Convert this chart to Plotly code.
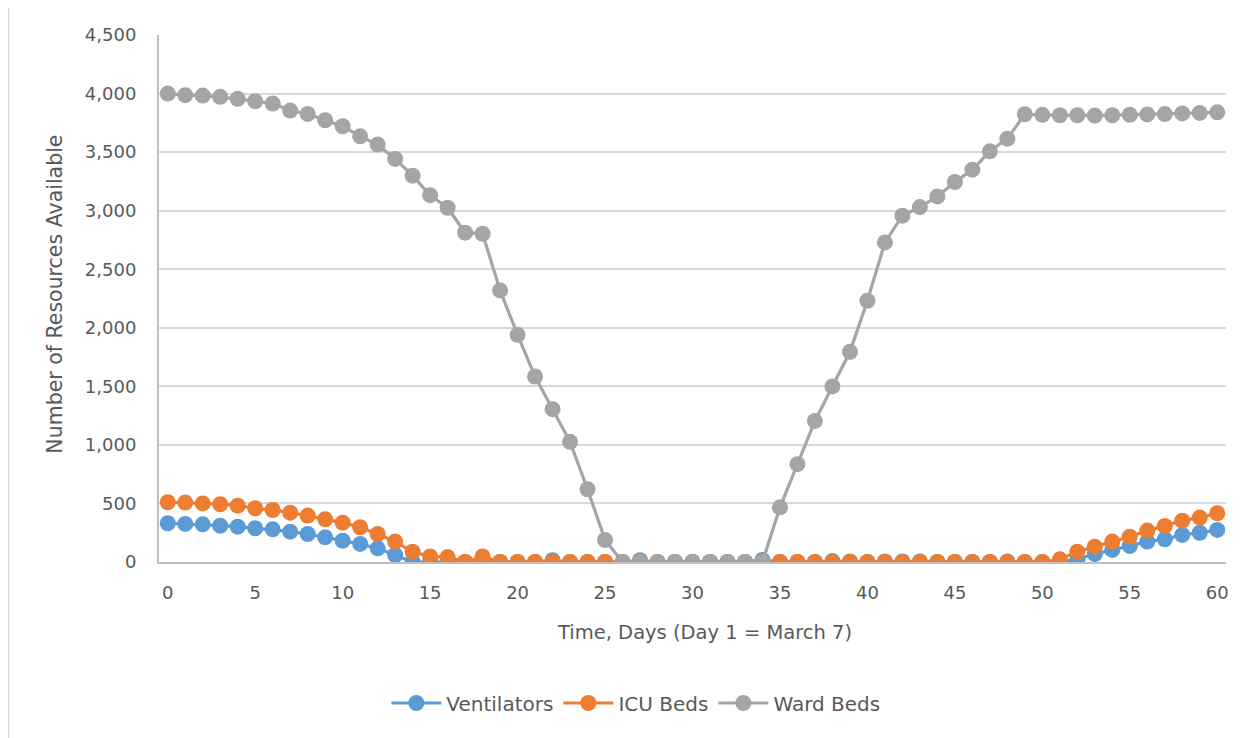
import plotly.graph_objects as go

days = list(range(61))

ventilators = [331, 325, 322, 310, 302, 288, 279, 259, 239, 211,
               182, 154, 117, 60, 0, 0, 0, 0, 15, 0,
               0, 0, 15, 0, 0, 0, 0, 15, 0, 0,
               0, 0, 0, 0, 18, 0, 0, 0, 8, 5,
               0, 5, 5, 5, 0, 0, 0, 0, 5, 0,
               0, 0, 23, 68, 103, 137, 174, 194, 231, 250,
               274]

icu_beds = [510, 507, 500, 493, 481, 459, 444, 421, 396, 365,
            336, 297, 239, 174, 88, 48, 42, 0, 48, 0,
            0, 0, 0, 0, 0, 0, 0, 0, 0, 0,
            0, 0, 0, 0, 0, 0, 0, 0, 0, 0,
            0, 0, 0, 0, 0, 0, 0, 0, 0, 0,
            0, 23, 88, 131, 174, 216, 268, 308, 353, 379,
            416]

ward_beds = [4000, 3986, 3983, 3972, 3955, 3934, 3915, 3855, 3826, 3772,
             3721, 3635, 3564, 3442, 3299, 3132, 3025, 2812, 2803, 2319,
             1940, 1584, 1305, 1026, 621, 188, 0, 0, 0, 0,
             0, 0, 0, 0, 0, 467, 835, 1205, 1499, 1795,
             2231, 2729, 2957, 3031, 3122, 3245, 3350, 3507, 3615, 3823,
             3818, 3815, 3815, 3812, 3815, 3818, 3822, 3825, 3830, 3835,
             3840]

series_names = ["Ventilators", "ICU Beds", "Ward Beds"]
series_colors = ["#5B9BD5", "#ED7D31", "#A5A5A5"]
y_ticks = list(range(0, 4501, 500))
x_ticks = list(range(0, 61, 5))

FONT = "DejaVu Sans"
TXT = "#595959"

# page body adds an 8px offset; plot area on screen: x 159.3..1226, y 35..562
OFF = 8
PL, PR, PT, PB = 159.3, 1226, 35, 562
W, H = 1255 - OFF, 738 - OFF
PW, PH = PR - PL, PB - PT

fig = go.Figure()
for name, vals, col in zip(series_names, [ventilators, icu_beds, ward_beds], series_colors):
    fig.add_trace(go.Scatter(
        x=days, y=vals, name=name, mode="lines+markers",
        line=dict(color=col, width=3.2),
        marker=dict(color=col, size=16),
    ))

fig.update_layout(
    width=W, height=H,
    margin=dict(l=PL - OFF, r=W - (PR - OFF), t=PT - OFF, b=H - (PB - OFF), pad=0),
    paper_bgcolor="white", plot_bgcolor="white",
    font=dict(family=FONT, color=TXT, size=18),
    showlegend=True,
    legend=dict(orientation="h", x=(636 - PL) / PW, xanchor="center",
                y=(PB - 703) / PH, yanchor="middle",
                font=dict(size=20, color=TXT, family=FONT), itemwidth=50, tracegroupgap=0),
    xaxis=dict(range=[-0.5, 60.5], tickmode="array", tickvals=x_ticks,
               ticktext=[str(v) for v in x_ticks],
               showgrid=False, zeroline=False, showline=True, linecolor="#BFBFBF", linewidth=2,
               ticks="outside", ticklen=13, tickcolor="rgba(0,0,0,0)",
               tickfont=dict(size=18, color=TXT, family=FONT)),
    yaxis=dict(range=[0, 4500], tickmode="array", tickvals=y_ticks,
               ticktext=[f"{v:,}" for v in y_ticks],
               showgrid=True, gridcolor="#D9D9D9", gridwidth=1.5,
               zeroline=False, showline=True, linecolor="#BFBFBF", linewidth=2,
               ticks="outside", ticklen=17, tickcolor="rgba(0,0,0,0)",
               tickfont=dict(size=18, color=TXT, family=FONT)),
)

fig.add_annotation(text="Time, Days (Day 1 = March 7)", xref="paper", yref="paper",
                   x=(705 - PL) / PW, y=(PB - 632) / PH, xanchor="center", yanchor="middle",
                   showarrow=False, font=dict(size=19.5, color=TXT, family=FONT))
fig.add_annotation(text="Number of Resources Available", xref="paper", yref="paper",
                   x=(55 - PL) / PW, y=(PB - 294) / PH, xanchor="center", yanchor="middle",
                   textangle=-90, showarrow=False, font=dict(size=20.5, color=TXT, family=FONT))

fig.add_shape(type="rect", xref="paper", yref="paper",
              x0=(9 - PL) / PW, x1=1.1, y0=-0.5, y1=(PB - 5) / PH,
              line=dict(color="#D9D9D9", width=1.5), fillcolor="rgba(0,0,0,0)", layer="below")

fig.write_html("out.html")
